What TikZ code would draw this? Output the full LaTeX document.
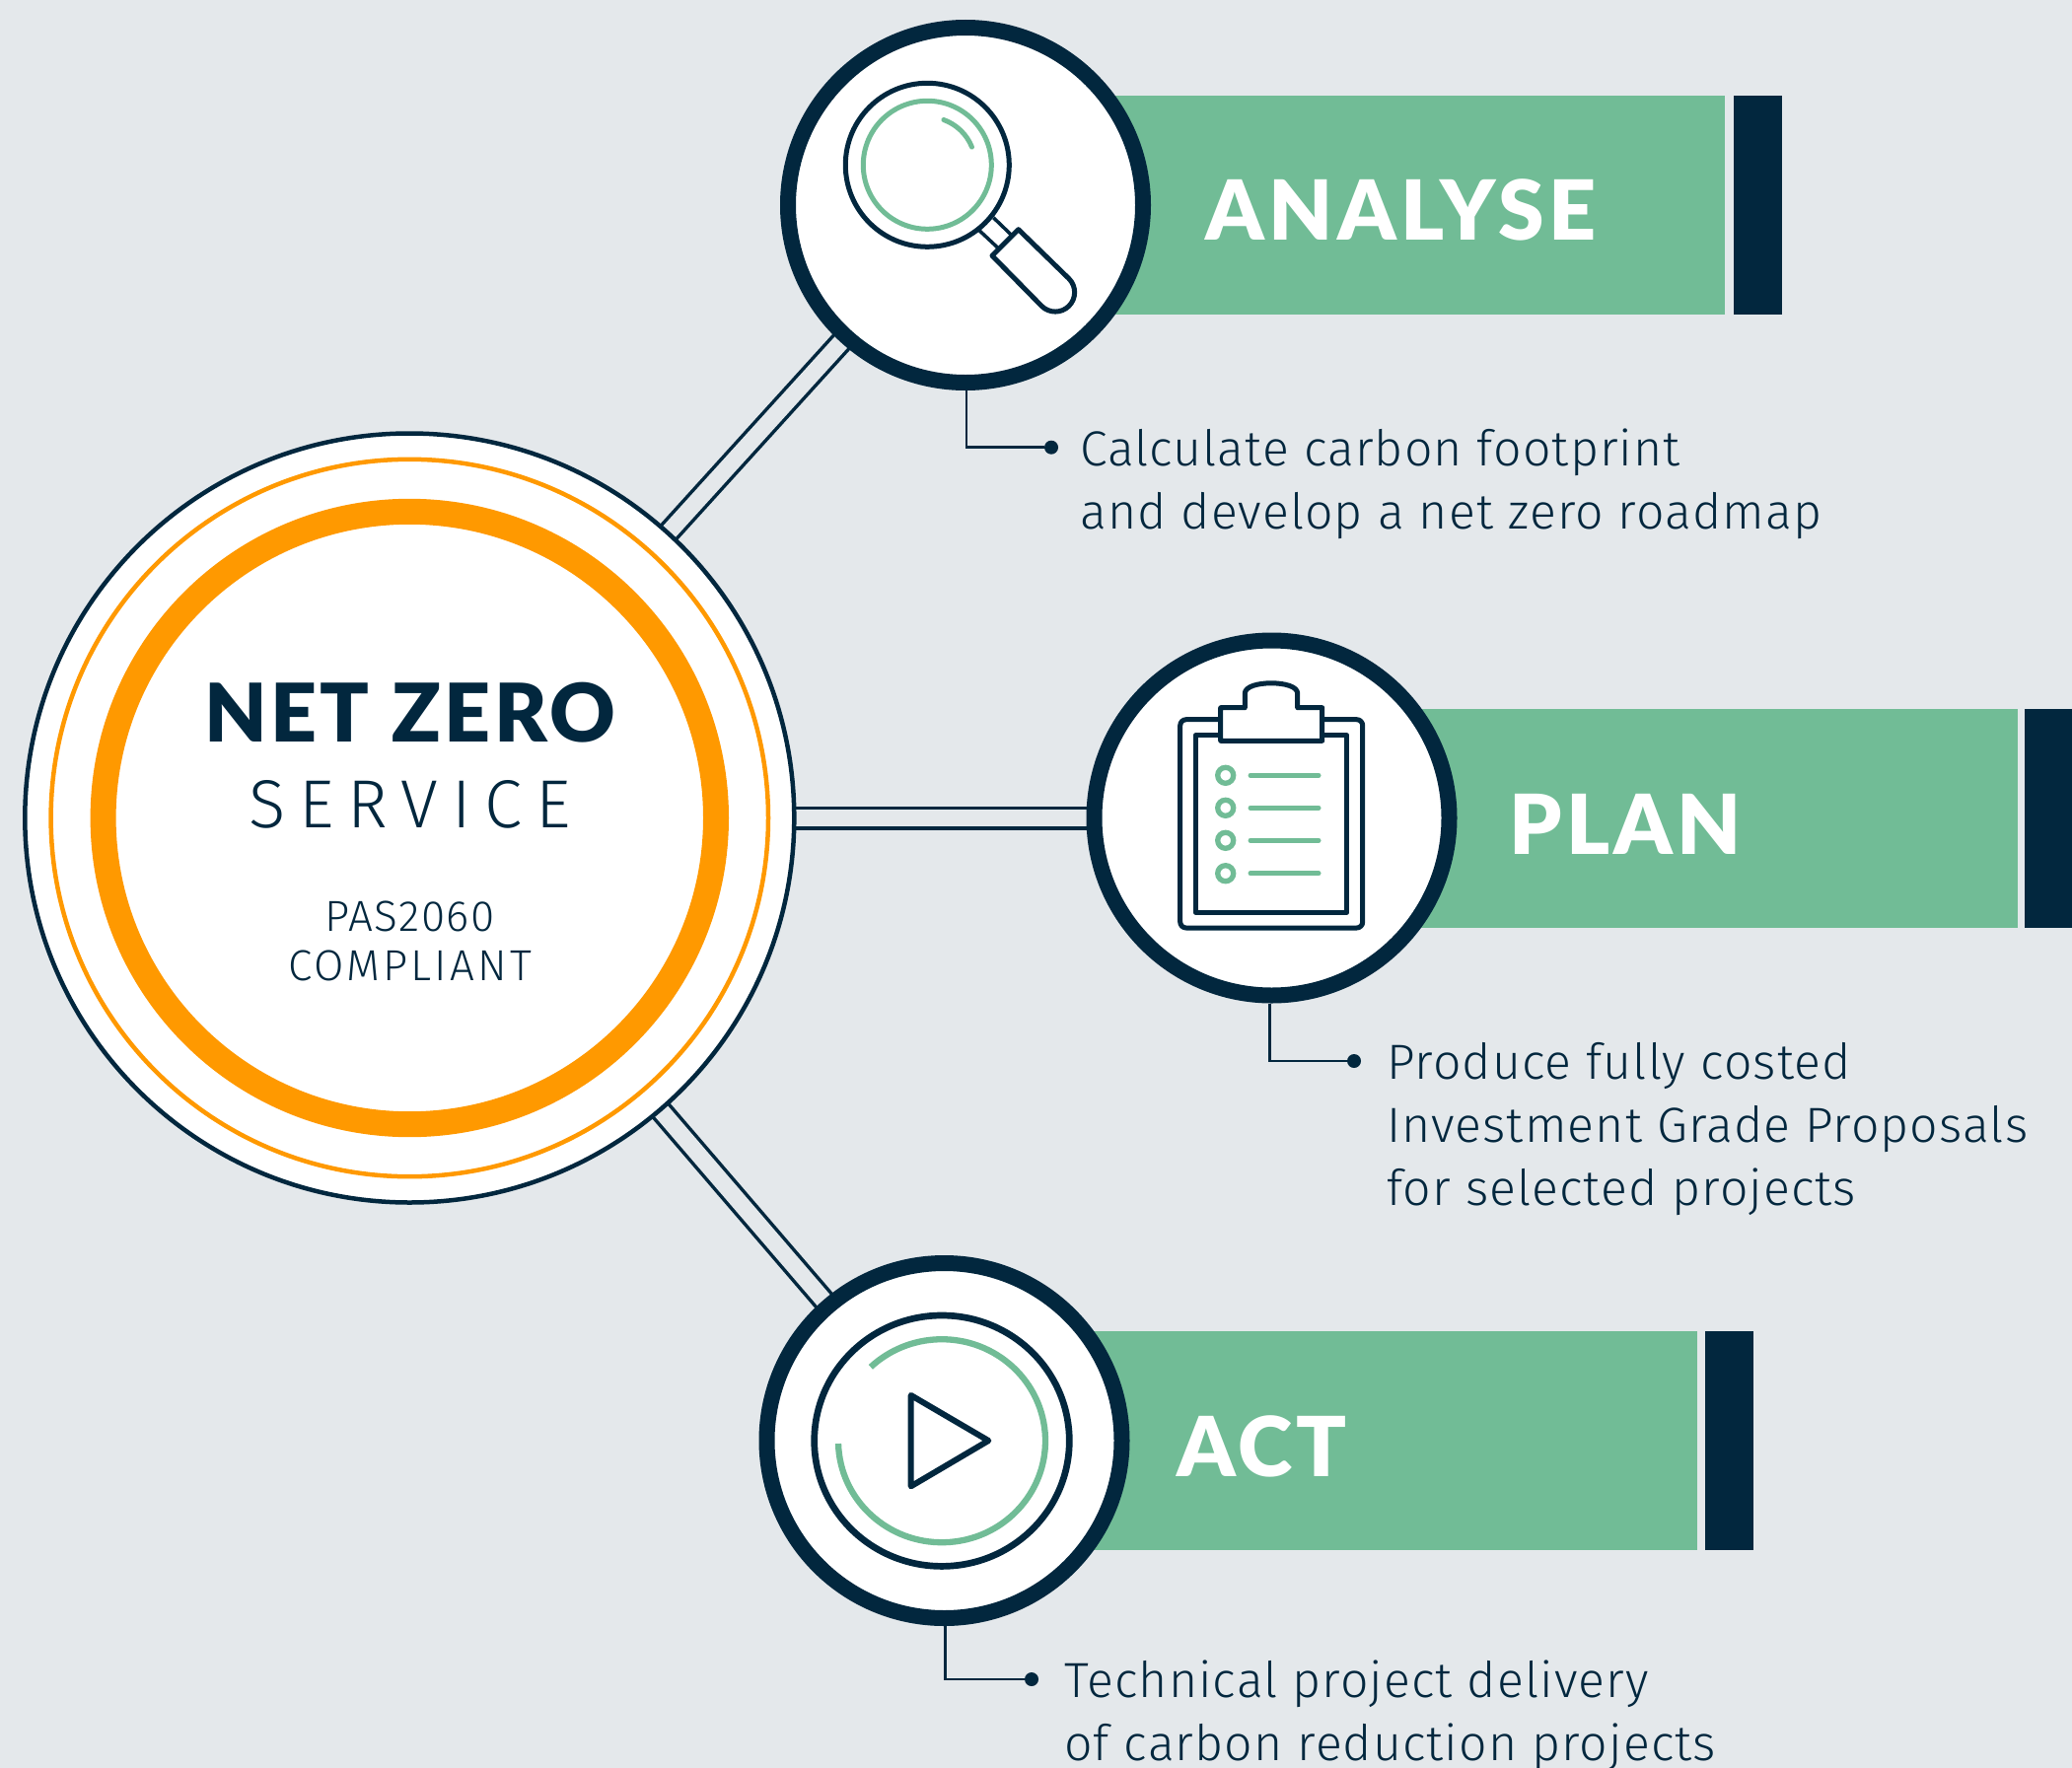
\documentclass[tikz,border=0pt]{standalone}
\usepackage{fontspec}
\setmainfont{Liberation Sans}
\newfontfamily\lightf[LetterSpace=2.2]{Fira Sans Light}
\newfontfamily\lightg{Fira Sans Light}
\newfontfamily\heavyf{Lato Black}
\definecolor{bgc}{HTML}{E4E8EB}
\definecolor{navy}{HTML}{02273E}
\definecolor{grn}{HTML}{71BC96}
\definecolor{org}{HTML}{FF9900}
\pgfdeclarelayer{back}
\pgfdeclarelayer{conn}
\pgfsetlayers{back,conn,main}
\tikzset{
  ring/.style={circle,draw=navy,fill=white,line width=16pt,minimum size=360pt,inner sep=0pt},
  big/.style={circle,draw=navy,fill=white,line width=4.5pt,minimum size=780pt,inner sep=0pt},
  link/.style={draw=navy,line width=3.5pt,double=bgc,double distance=17pt},
  leader/.style={draw=navy,line width=2.7pt},
  dotn/.style={circle,fill=navy,inner sep=0pt,minimum size=14pt},
  banner/.style={fill=grn,draw=none},
  endbar/.style={fill=navy,draw=none},
  title/.style={anchor=base west,inner sep=0pt,text=white,font=\heavyf\fontsize{84}{84}\selectfont\addfontfeature{LetterSpace=5.3}},
  desc/.style={anchor=base west,inner sep=0pt,text=navy,align=left,font=\lightf\fontsize{50}{64}\selectfont},
  ctext/.style={anchor=base,inner sep=0pt,text=navy},
  ico/.style={draw=navy,line width=5pt,line join=round},
  icog/.style={draw=grn,line width=5pt,line cap=round},
}
\begin{document}
\begin{tikzpicture}[x=1pt,y=1pt,yscale=-1]
\useasboundingbox (0,0) rectangle (2101,1793);
\begin{pgfonlayer}{back}
\fill[bgc] (0,0) rectangle (2101,1793);
\fill[banner] (979,97) rectangle (1749,319);
\fill[endbar] (1758,97) rectangle (1807,319);
\fill[banner] (1290,719) rectangle (2046,941);
\fill[endbar] (2053,719) rectangle (2101,941);
\fill[banner] (958,1350) rectangle (1721,1572);
\fill[endbar] (1729,1350) rectangle (1778,1572);
\end{pgfonlayer}
% circles
\node[big] (core) at (415.3,829.5) {};
\node[ring] (an) at (979,208) {};
\node[ring] (pl) at (1289.5,829.5) {};
\node[ring] (ac) at (957.5,1461) {};
% connectors
\begin{pgfonlayer}{conn}
\draw[link] (core.center) -- (an.center);
\draw[link] (core.center) -- (pl.center);
\draw[link] (core.center) -- (ac.center);
\end{pgfonlayer}
% core rings
\draw[org,line width=4.5pt] (core.center) circle[radius=363.7];
\draw[org,line width=26pt] (core.center) circle[radius=310.7];
\node[ctext,font=\heavyf\fontsize{82}{82}\selectfont\addfontfeature{LetterSpace=4.2}] (t1) at (415.8,752.5) {NET ZERO};
\node[ctext,font=\lightg\fontsize{69}{69}\selectfont\addfontfeature{LetterSpace=20}] (t2) at (415.5,839.3) {SERVICE};
\node[ctext,font=\lightg\fontsize{44}{44}\selectfont\addfontfeature{LetterSpace=3.5}] (t3) at (415.5,944) {PAS2060};
\node[ctext,font=\lightg\fontsize{44}{44}\selectfont\addfontfeature{LetterSpace=7}] (t4) at (415.5,994.5) {COMPLIANT};
% titles
\node[title] (h1) at (1222,243) {ANALYSE};
\node[title] (h2) at (1530,866) {PLAN};
\node[title] (h3) at (1193,1497) {ACT};
% leaders
\node[dotn] (d1) at (1066,453.7) {};
\node[dotn] (d2) at (1373,1076) {};
\node[dotn] (d3) at (1046,1703) {};
\draw[leader] ([xshift=1pt]an.south) |- (d1);
\draw[leader] ([xshift=-2pt]pl.south) |- (d2);
\draw[leader] ([xshift=0.8pt]ac.south) |- (d3);
\node[desc] (p1) at (1095,536) {Calculate carbon footprint\\and develop a net zero roadmap};
\node[desc] (p2) at (1406,1222) {Produce fully costed\\Investment Grade Proposals\\for selected projects};
\node[desc] (p3) at (1079,1785) {Technical project delivery\\of carbon reduction projects};
% magnifier
\draw[navy,line width=3.5pt] (993.3,234) -- (1013.3,252.7);
\draw[navy,line width=3.5pt] (1007.3,220.7) -- (1027.3,240);
\draw[ico] (940.3,167.3) circle[radius=83];
\draw[draw=grn,line width=5pt] (940.3,167.3) circle[radius=65];
\draw[icog] (940.3,167.3) ++(-70:48.7) arc[start angle=-70,end angle=-22,radius=48.7];
\draw[ico] (1006,259.3) -- (1032.7,232.7) -- (1083.9,282.6) arc[start angle=-45,end angle=135,radius=19.6] -- cycle;
% clipboard
\draw[ico,rounded corners=6pt] (1196.7,729.7) rectangle (1381.7,941);
\draw[ico] (1212.3,745.7) rectangle (1365.7,925.3);
\draw[ico,fill=white] (1237.7,751.3) -- (1340.7,751.3) -- (1340.7,717.7) -- (1315.7,717.7) -- (1315.7,703.3)
  .. controls (1315.7,696) and (1302,692.8) .. (1289,692.8)
  .. controls (1276,692.8) and (1262.3,696) .. (1262.3,703.3) -- (1262.3,717.7) -- (1237.7,717.7) -- cycle;
\foreach \yy in {786.3,819.3,852.3,885.7}{
  \draw[draw=grn,line width=5.3pt] (1242.7,\yy) circle[radius=8];
  \draw[icog] (1268,\yy) -- (1337,\yy);
}
% play
\draw[draw=navy,line width=6.7pt] (955,1461.2) ellipse[x radius=129.3,y radius=127.2];
\draw[draw=grn,line width=6.3pt] (955,1461.2) ++(178.4:105 and 103) arc[start angle=178.4,end angle=-133.4,x radius=105,y radius=103];
\draw[draw=navy,line width=6pt,line join=round] (923.7,1415) -- (1002.3,1461) -- (923.7,1507.3) -- cycle;
\end{tikzpicture}
\end{document}
